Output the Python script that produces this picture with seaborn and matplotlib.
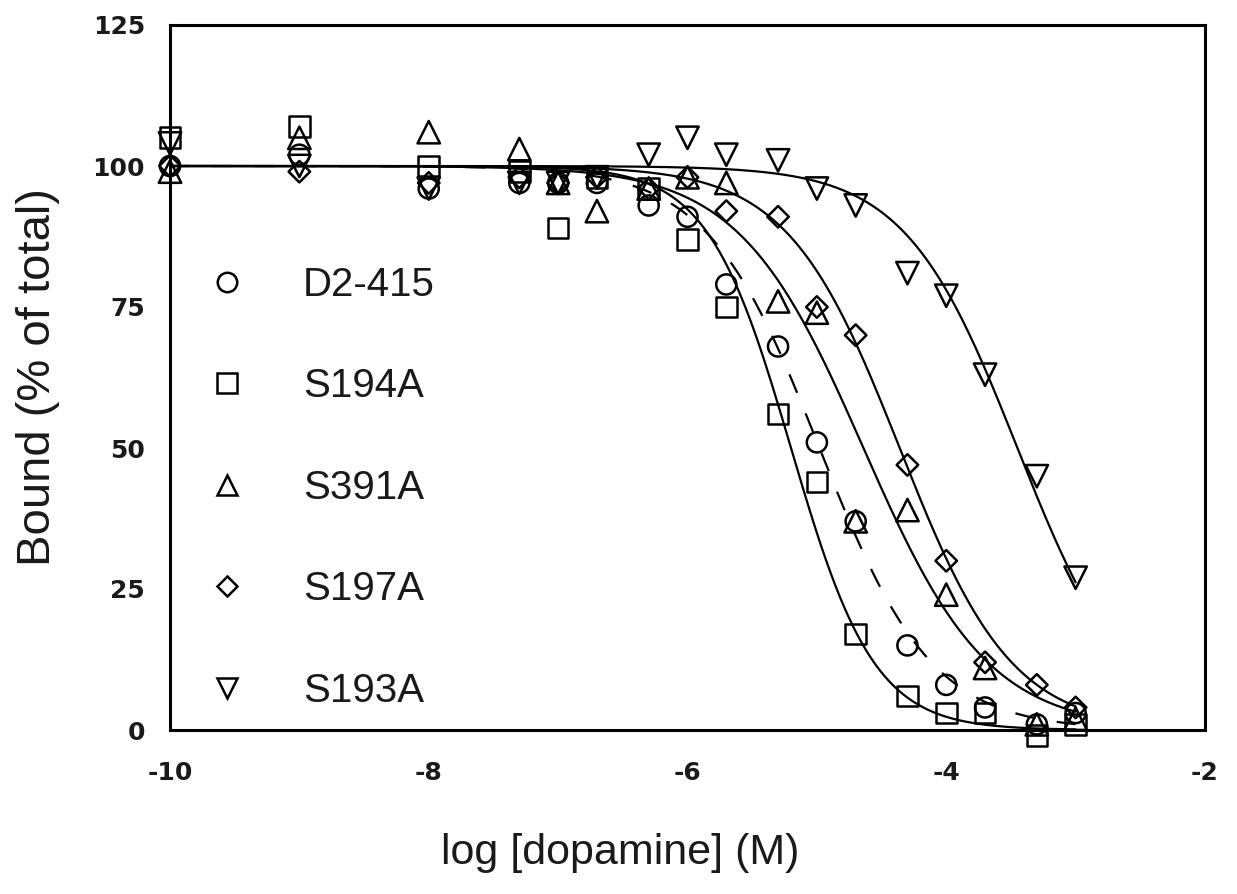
import numpy as np
import pandas as pd
import matplotlib
matplotlib.use("Agg")
import matplotlib.pyplot as plt
from matplotlib.lines import Line2D
import seaborn as sns

### competition binding data
log_dose = [-10, -9, -8, -7.3, -7, -6.7, -6.3, -6, -5.7, -5.3, -5, -4.7, -4.3, -4, -3.7, -3.3, -3]
d2_415 = [100, 102, 96, 97, 97, 97, 93, 91, 79, 68, 51, 37, 15, 8, 4, 1, 3]
s194a = [105, 107, 100, 99, 89, 98, 96, 87, 75, 56, 44, 17, 6, 3, 3, -1, 1]
s391a = [99, 105, 106, 103, 97, 92, 96, 98, 97, 76, 74, 37, 39, 24, 11, 1, 2]
s197a = [100, 99, 97, 98, 97, 98, 96, 98, 92, 91, 75, 70, 47, 30, 12, 8, 4]
s193a = [104, 100, 96, 97, 97, 98, 102, 105, 102, 101, 96, 93, 81, 77, 63, 45, 27]

mutants = ["D2-415", "S194A", "S391A", "S197A", "S193A"]
markers = ["o", "s", "^", "D", "v"]
sizes = [210, 220, 260, 120, 260]
# fitted one-site curves (log IC50, hill slope)
log_ic50 = [-4.98, -5.2, -4.64, -4.36, -3.45]
hill = [1.0, 1.35, 0.9, 1.0, 1.0]

series = [d2_415, s194a, s391a, s197a, s193a]
df = pd.concat([pd.DataFrame({"logdose": log_dose, "bound": vals, "mutant": name})
                for name, vals in zip(mutants, series)], ignore_index=True)

sns.set_theme(style="white")
plt.rcParams["font.family"] = ["Liberation Sans", "DejaVu Sans"]
plt.rcParams["axes.unicode_minus"] = False

W, H = 1237, 894
fig = plt.figure(figsize=(W / 100, H / 100), dpi=100)
ax = fig.add_axes([170 / W, 1 - 730 / H, (1205 - 170) / W, (730 - 25) / H])

xfit = np.linspace(-10, -3, 400)
for name, c, n in zip(mutants, log_ic50, hill):
    yfit = 100 / (1 + 10 ** ((xfit - c) * n))
    ls = (0, (9, 10)) if name == "D2-415" else "-"
    sns.lineplot(x=xfit, y=yfit, ax=ax, color="black", lw=1.6, linestyle=ls, zorder=2)

for name, m, s in zip(mutants, markers, sizes):
    sub = df[df["mutant"] == name]
    sns.scatterplot(data=sub, x="logdose", y="bound", marker=m, s=s, ax=ax,
                    facecolor="none", edgecolor="black", linewidth=1.8,
                    clip_on=False, zorder=3, legend=False)

tick_font = {"family": "DejaVu Sans", "weight": "bold", "size": 18}
ax.set_xlim(-10, -2)
ax.set_ylim(0, 125)
ax.set_xticks([-10, -8, -6, -4, -2], ["-10", "-8", "-6", "-4", "-2"], fontdict=tick_font)
ax.set_yticks([0, 25, 50, 75, 100, 125], ["0", "25", "50", "75", "100", "125"], fontdict=tick_font)
ax.tick_params(axis="both", direction="in", length=12, width=1.5, color="black",
               labelcolor="#1a1a1a")
ax.tick_params(axis="x", pad=22)
ax.tick_params(axis="y", pad=18)
for sp in ax.spines.values():
    sp.set_visible(True)
    sp.set_color("black")
    sp.set_linewidth(2.2)

ax.set_xlabel("log [dopamine] (M)", fontsize=31, color="#1a1a1a")
ax.set_ylabel("Bound (% of total)", fontsize=34, color="#1a1a1a")
ax.xaxis.set_label_coords(0.435, -0.146)
ax.yaxis.set_label_coords(-0.106, 0.5)

handles = [Line2D([], [], marker=m, ls="none", mfc="none", mec="black", ms=14, mew=1.8)
           for m in markers]
handles[3].set_markersize(10)
ax.legend(handles, mutants, loc="upper left", bbox_to_anchor=(207 / W, 1 - 266 / H),
          bbox_transform=fig.transFigure, frameon=False, fontsize=29, handlelength=1.0,
          handletextpad=1.38, labelspacing=1.575, borderpad=0, borderaxespad=0,
          labelcolor="#1a1a1a")

fig.savefig("out.png", dpi=100)
